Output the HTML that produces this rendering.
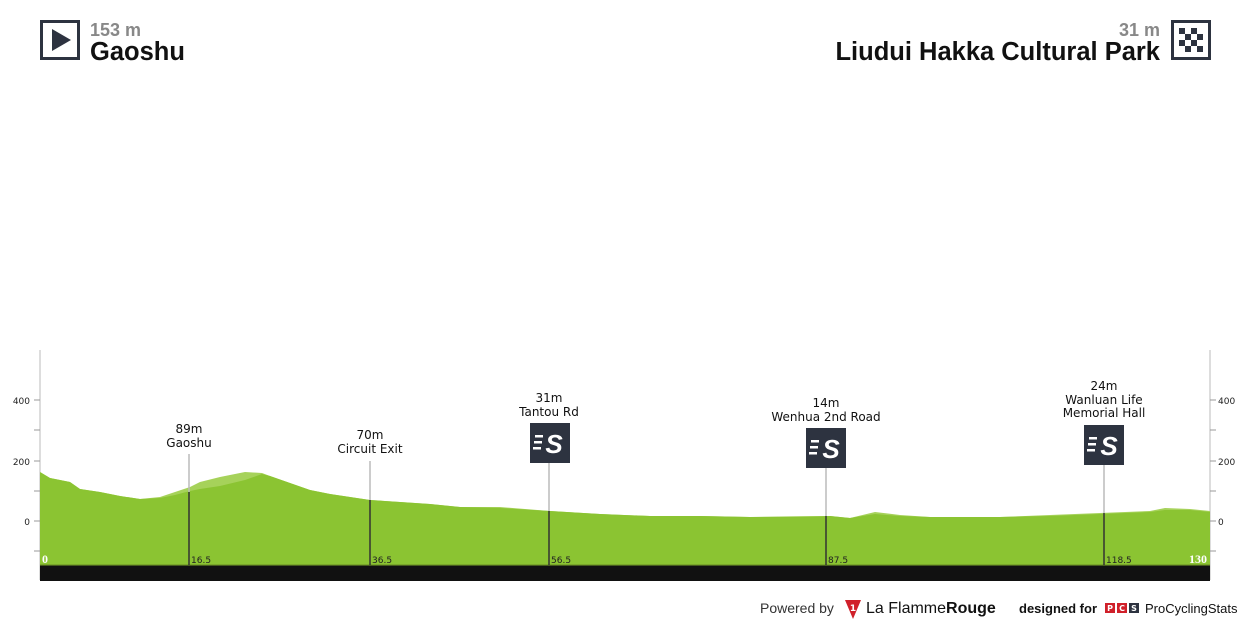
<!DOCTYPE html>
<html><head><meta charset="utf-8"><style>
body{margin:0;background:#fff;width:1250px;height:625px;overflow:hidden;font-family:"Liberation Sans","DejaVu Sans",sans-serif}
</style></head><body>
<svg width="1250" height="625" viewBox="0 0 1250 625" xmlns="http://www.w3.org/2000/svg" font-family="'DejaVu Sans','Liberation Sans',sans-serif">
<rect x="41.5" y="21.5" width="37" height="37" fill="#fff" stroke="#2d3340" stroke-width="3"/>
<polygon points="52,29 52,51 71,40" fill="#2d3340"/>
<text x="90" y="36" font-size="18" font-weight="bold" fill="#888" font-family="Liberation Sans,sans-serif">153 m</text>
<text x="90" y="60" font-size="25.5" font-weight="bold" fill="#111" font-family="Liberation Sans,sans-serif">Gaoshu</text>
<text x="1160" y="36" font-size="18" font-weight="bold" fill="#888" text-anchor="end" font-family="Liberation Sans,sans-serif">31 m</text>
<text x="1160" y="60" font-size="25.5" font-weight="bold" fill="#111" text-anchor="end" font-family="Liberation Sans,sans-serif">Liudui Hakka Cultural Park</text>
<rect x="1172.5" y="21.5" width="37" height="37" fill="#fff" stroke="#2d3340" stroke-width="3"/>
<g fill="#2d3340">
<rect x="1179" y="28" width="6" height="6"/><rect x="1191" y="28" width="6" height="6"/>
<rect x="1185" y="34" width="6" height="6"/><rect x="1197" y="34" width="6" height="6"/>
<rect x="1179" y="40" width="6" height="6"/><rect x="1191" y="40" width="6" height="6"/>
<rect x="1185" y="46" width="6" height="6"/><rect x="1197" y="46" width="6" height="6"/>
</g>
<line x1="40" y1="350" x2="40" y2="580" stroke="#bbb"/>
<line x1="1210" y1="350" x2="1210" y2="580" stroke="#bbb"/>
<g stroke="#999">
<line x1="34" y1="400" x2="40" y2="400"/><line x1="34" y1="430" x2="40" y2="430"/><line x1="34" y1="461" x2="40" y2="461"/><line x1="34" y1="491" x2="40" y2="491"/><line x1="34" y1="521" x2="40" y2="521"/><line x1="34" y1="551" x2="40" y2="551"/>
<line x1="1210" y1="400" x2="1216" y2="400"/><line x1="1210" y1="430" x2="1216" y2="430"/><line x1="1210" y1="461" x2="1216" y2="461"/><line x1="1210" y1="491" x2="1216" y2="491"/><line x1="1210" y1="521" x2="1216" y2="521"/><line x1="1210" y1="551" x2="1216" y2="551"/>
</g>
<g font-size="9" fill="#222">
<text x="30" y="404" text-anchor="end">400</text><text x="30" y="465" text-anchor="end">200</text><text x="30" y="525" text-anchor="end">0</text>
<text x="1218" y="404">400</text><text x="1218" y="465">200</text><text x="1218" y="525">0</text>
</g>
<path d="M40,472 L50,478 L70,482 L80,489 L100,492 L120,496 L140,499 L160,497 L175,492 L190,487 L200,482 L220,477 L245,472 L262,473 L270,476 L290,483 L310,490 L330,494 L350,497 L370,500 L400,502 L430,504 L460,507 L500,507 L550,511 L600,514 L650,516 L700,516 L750,517 L810,516 L830,516 L850,518 L875,512 L900,515 L930,517 L1000,517 L1050,515 L1100,513 L1150,511 L1165,508 L1190,509 L1210,511 L1210,565 L40,565 Z" fill="#a6d25a"/>
<path d="M40,472 L50,478 L70,482 L80,489 L100,492 L120,496 L140,499 L160,498 L175,495 L190,491 L200,489 L220,486 L245,480 L262,474 L270,476 L290,483 L310,490 L330,494 L350,497 L370,500 L400,502 L430,504 L460,507 L500,508 L550,511 L600,514 L650,516 L700,516 L750,517 L810,517 L830,516 L850,518 L875,514 L900,516 L930,517 L1000,517 L1050,516 L1100,514 L1150,512 L1165,510 L1190,510 L1210,512 L1210,565 L40,565 Z" fill="#8bc432"/>
<rect x="40" y="565" width="1170" height="16" fill="#111"/>
<rect x="40" y="564" width="1170" height="1.5" fill="#7aa82a"/>
<g stroke-width="1.5">
<line x1="189" y1="454" x2="189" y2="492" stroke="#bbb"/><line x1="189" y1="492" x2="189" y2="565" stroke="#333"/>
<line x1="370" y1="461" x2="370" y2="500" stroke="#bbb"/><line x1="370" y1="500" x2="370" y2="565" stroke="#333"/>
<line x1="549" y1="463" x2="549" y2="511" stroke="#bbb"/><line x1="549" y1="511" x2="549" y2="565" stroke="#333"/>
<line x1="826" y1="468" x2="826" y2="516" stroke="#bbb"/><line x1="826" y1="516" x2="826" y2="565" stroke="#333"/>
<line x1="1104" y1="465" x2="1104" y2="513" stroke="#bbb"/><line x1="1104" y1="513" x2="1104" y2="565" stroke="#333"/>
</g>
<g font-size="9" fill="#222">
<text x="191" y="563">16.5</text><text x="372" y="563">36.5</text><text x="551" y="563">56.5</text><text x="828" y="563">87.5</text><text x="1106" y="563">118.5</text>
</g>
<text x="42" y="563" font-size="12" font-weight="bold" fill="#fff" font-family="Liberation Serif,serif">0</text>
<text x="1207" y="563" font-size="12" font-weight="bold" fill="#fff" text-anchor="end" font-family="Liberation Serif,serif">130</text>
<g font-size="12" fill="#111" text-anchor="middle">
<text x="189" y="433">89m</text><text x="189" y="447">Gaoshu</text>
<text x="370" y="439">70m</text><text x="370" y="453">Circuit Exit</text>
<text x="549" y="402">31m</text><text x="549" y="416">Tantou Rd</text>
<text x="826" y="407">14m</text><text x="826" y="421">Wenhua 2nd Road</text>
<text x="1104" y="390">24m</text><text x="1104" y="404">Wanluan Life</text><text x="1104" y="417">Memorial Hall</text>
</g>
<g>
<rect x="530" y="423" width="40" height="40" fill="#2d3340"/>
<rect x="806" y="428" width="40" height="40" fill="#2d3340"/>
<rect x="1084" y="425" width="40" height="40" fill="#2d3340"/>
</g>
<g font-size="26" font-weight="bold" font-style="italic" fill="#fff" text-anchor="middle" font-family="Liberation Sans,sans-serif">
<text x="554" y="453">S</text><text x="831" y="458">S</text><text x="1109" y="455">S</text>
</g>
<g fill="#fff">
<rect x="535" y="435" width="8" height="2.5"/><rect x="534" y="441" width="8" height="2.5"/><rect x="533" y="447" width="8" height="2.5"/>
<rect x="811" y="440" width="8" height="2.5"/><rect x="810" y="446" width="8" height="2.5"/><rect x="809" y="452" width="8" height="2.5"/>
<rect x="1089" y="437" width="8" height="2.5"/><rect x="1088" y="443" width="8" height="2.5"/><rect x="1087" y="449" width="8" height="2.5"/>
</g>
<text x="760" y="613" font-size="14" fill="#333" font-family="Liberation Sans,sans-serif">Powered by</text>
<polygon points="845,600 861,600 853,619" fill="#d0202a"/>
<text x="853" y="611" font-size="9" font-weight="bold" fill="#fff" text-anchor="middle">1</text>
<text x="866" y="613" font-size="16" fill="#111" font-family="Liberation Sans,sans-serif">La Flamme<tspan font-weight="bold">Rouge</tspan></text>
<text x="1019" y="613" font-size="13" font-weight="bold" fill="#111" font-family="Liberation Sans,sans-serif">designed for</text>
<rect x="1105" y="603" width="10" height="10" fill="#d0202a"/><rect x="1117" y="603" width="10" height="10" fill="#d0202a"/><rect x="1129" y="603" width="10" height="10" fill="#2d3340"/>
<g font-size="8" font-weight="bold" fill="#fff" text-anchor="middle"><text x="1110" y="611">P</text><text x="1122" y="611">C</text><text x="1134" y="611">S</text></g>
<text x="1145" y="613" font-size="13" fill="#111" font-family="Liberation Sans,sans-serif">ProCyclingStats</text>
</svg>
</body></html>
